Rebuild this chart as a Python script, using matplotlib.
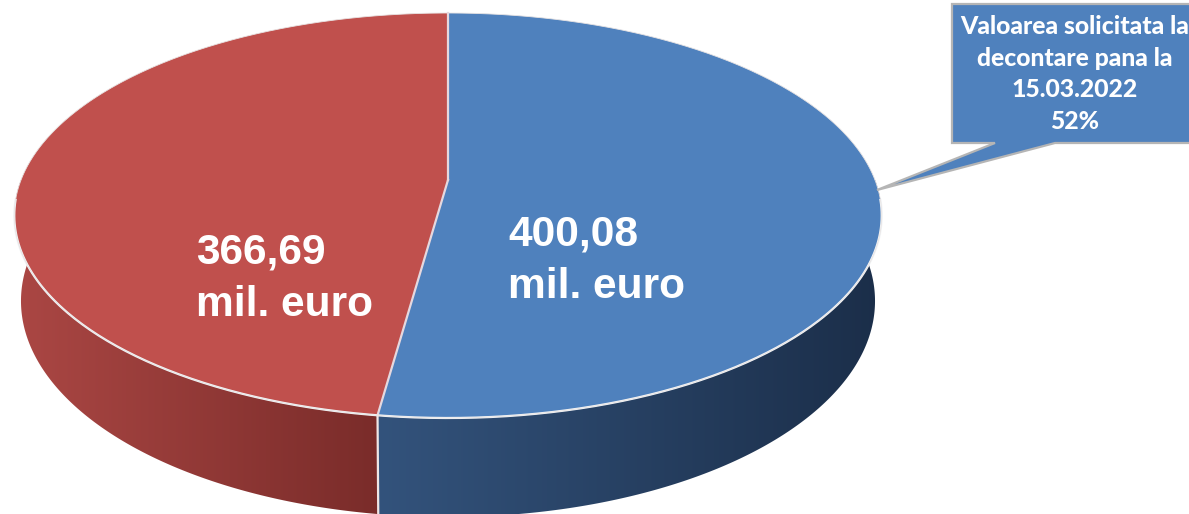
#Pie chart with a 3D look, drawn in pixel coordinates of the picture
import numpy as np
import matplotlib
matplotlib.use("Agg")
import matplotlib.pyplot as plt
from matplotlib.patches import Polygon
from matplotlib.colors import LinearSegmentedColormap

values = [400.08, 366.69]
value_labels = ["400,08\nmil. euro", "366,69\nmil. euro"]
top_colors = ["#4f81bd", "#c0504d"]
side_colors = [["#33537c", "#1b2e49"], ["#ab4744", "#7a2c2a"]]
callout_lines = "Valoarea solicitata la\ndecontare pana la\n15.03.2022\n52%"

W, H = 1189, 514

# rim of the disc: a circle seen in perspective
def rim(theta, cx, cy, ax_x, y_top, y_bot):
    u = np.sin(theta)
    v = np.cos(theta)
    c = (y_bot + y_top - 2 * cy) / (y_bot - y_top)
    a = y_top * (1 + c) - cy
    d = c * v + 1
    return cx + ax_x * u / d, (a * v + cy) / d

def top_rim(theta):
    return rim(theta, 448, 180, 427, 13, 418)

def bottom_rim(theta):
    return rim(theta, 448, 262, 420, 85, 517)

fig = plt.figure(figsize=(W / 100, H / 100), dpi=100)
ax = fig.add_axes([0, 0, 1, 1])
ax.set_xlim(0, W)
ax.set_ylim(H, 0)
ax.axis("off")

fracs = np.array(values) / sum(values)
edges = np.concatenate([[0], np.cumsum(fracs)]) * 2 * np.pi

# side walls, only the front of the disc
for i in range(2):
    lo = max(edges[i], np.pi / 2)
    hi = min(edges[i + 1], 3 * np.pi / 2)
    th = np.linspace(lo, hi, 200)
    x1, y1 = top_rim(th)
    x2, y2 = bottom_rim(th)
    pts = np.r_[np.c_[x1, y1], np.c_[x2, y2][::-1]]
    patch = Polygon(pts, closed=True, fc="none", ec="none")
    ax.add_patch(patch)
    left, right = pts[:, 0].min(), pts[:, 0].max()
    cmap = LinearSegmentedColormap.from_list("side", side_colors[i])
    im = ax.imshow(np.linspace(0, 1, 256)[None, :], cmap=cmap, aspect="auto",
                   extent=[left, right, H + 20, 0], zorder=1)
    im.set_clip_path(patch)
ax.set_xlim(0, W)
ax.set_ylim(H, 0)

# top face
for i in range(2):
    th = np.linspace(edges[i], edges[i + 1], 300)
    x, y = top_rim(th)
    ax.add_patch(Polygon(np.r_[[[448, 180]], np.c_[x, y]], closed=True,
                         fc=top_colors[i], ec="none", zorder=2))

# light edges
th = np.linspace(np.pi / 2 + 0.1, 3 * np.pi / 2 - 0.1, 300)
x, y = top_rim(th)
ax.plot(x, y, color="#f2f4f6", lw=1.6, zorder=3)
th = np.linspace(0, 2 * np.pi, 500)
x, y = top_rim(th)
ax.plot(x, y, color="#e8e4e4", lw=0.6, zorder=3)
for e in edges[:2]:
    x, y = top_rim(e)
    ax.plot([448, x], [180, y], color="#e6d8de", lw=1.6, zorder=3)
x, y = top_rim(edges[1])
xb, yb = bottom_rim(edges[1])
ax.plot([x, xb], [y, yb], color="#efe6e6", lw=1.6, zorder=3)

ax.text(508, 261, value_labels[0], color="white", fontsize=30.6, fontweight="bold",
        family="Liberation Sans", ha="left", va="center", linespacing=1.4, zorder=4)
ax.text(196, 279, value_labels[1], color="white", fontsize=30.6, fontweight="bold",
        family="Liberation Sans", ha="left", va="center", linespacing=1.4, zorder=4)

# callout
ax.add_patch(Polygon([[952, 4], [1195, 4], [1195, 143], [1055, 143], [877, 190],
                      [995, 143], [952, 143]], closed=True, fc="#4f81bd",
                     ec="#b5b5b5", lw=1.6, zorder=5))
ax.text(1075, 74, callout_lines, color="white", fontsize=17.8, fontweight="black",
        family="Lato", ha="center", va="center", linespacing=1.46, zorder=6)

fig.savefig("out.png", dpi=100)
